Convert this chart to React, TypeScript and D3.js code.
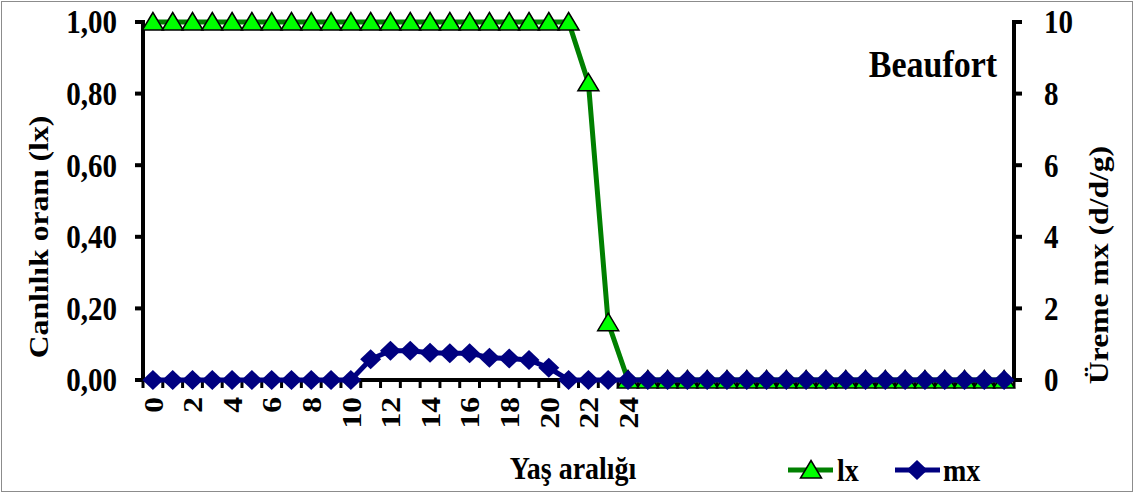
import React from "react";
import * as d3 from "d3";

const ages = ["0","1","2","3","4","5","6","7","8","9","10","11","12","13","14","15","16","17","18","19","20","21","22","23","24","25","26","27","28","29","30","31","32","33","34","35","36","37","38","39","40","41","42","43"];
const tickLabels = ["0","","2","","4","","6","","8","","10","","12","","14","","16","","18","","20","","22","","24","","","","","","","","","","","","","","","","","","",""];
const lxValues = [1,1,1,1,1,1,1,1,1,1,1,1,1,1,1,1,1,1,1,1,1,1,0.83,0.16,0,0,0,0,0,0,0,0,0,0,0,0,0,0,0,0,0,0,0,0];
const mxValues = [0,0,0,0,0,0,0,0,0,0,0,0.58,0.82,0.82,0.76,0.75,0.75,0.62,0.6,0.56,0.34,0,0,0,0,0,0,0,0,0,0,0,0,0,0,0,0,0,0,0,0,0,0,0];
const leftTicks = [0, 0.2, 0.4, 0.6, 0.8, 1.0];
const leftTickLabels = ["0,00","0,20","0,40","0,60","0,80","1,00"];
const rightTicks = [0, 2, 4, 6, 8, 10];

const W = 1140, H = 495;
const L = 143, R = 1014, T = 22, B = 380;
const FONT = "Liberation Serif, DejaVu Serif, serif";
const SY = 1.13;

function Txt(props: { x: number; y: number; rot?: number; anchor?: string; size: number; dy?: string; children: React.ReactNode }) {
  const { x, y, rot = 0, anchor = "start", size, dy, children } = props;
  return (
    <text transform={`translate(${x},${y}) scale(1,${SY}) rotate(${rot})`} textAnchor={anchor} fontSize={size} dy={dy}>
      {children}
    </text>
  );
}

export default function App() {
  const x = d3.scaleBand<string>().domain(ages).range([L, R]).paddingInner(0).paddingOuter(0);
  const bw = x.bandwidth();
  const cx = (i: number) => (x(ages[i]) as number) + bw / 2;
  const yL = d3.scaleLinear().domain([0, 1]).range([B, T]);
  const yR = d3.scaleLinear().domain([0, 10]).range([B, T]);

  const lxLine = d3.line<number>().x((_, i) => cx(i)).y((d) => yL(d))(lxValues) as string;
  const mxLine = d3.line<number>().x((_, i) => cx(i)).y((d) => yR(d))(mxValues) as string;

  const tri = "M0,-9.5 L10.5,8 L-10.5,8 Z";
  const dia = "M0,-10 L10.5,0 L0,10 L-10.5,0 Z";

  const boundaries = d3.range(ages.length + 1).map((i) => L + i * bw);

  return (
    <svg width={W} height={H} style={{ position: "absolute", left: 0, top: 0, background: "#fff", fontFamily: FONT, fontWeight: "bold" }}>
      <rect x={1.5} y={1.5} width={1131} height={490} fill="#fff" stroke="#8c8c8c" strokeWidth={1} />

      {/* left axis */}
      <line x1={L} x2={L} y1={T - 2} y2={B + 2} stroke="#000" strokeWidth={4} />
      {leftTicks.map((t, i) => (
        <g key={"l" + i}>
          <line x1={L - 8} x2={L} y1={yL(t)} y2={yL(t)} stroke="#000" strokeWidth={4} />
          <Txt x={117} y={yL(t)} dy="0.35em" anchor="end" size={29}>{leftTickLabels[i]}</Txt>
        </g>
      ))}
      {/* right axis */}
      <line x1={R} x2={R} y1={T - 2} y2={B + 2} stroke="#000" strokeWidth={4} />
      {rightTicks.map((t, i) => (
        <g key={"r" + i}>
          <line x1={R} x2={R + 8} y1={yR(t)} y2={yR(t)} stroke="#000" strokeWidth={4} />
          <Txt x={1044} y={yR(t)} dy="0.35em" size={29}>{String(t)}</Txt>
        </g>
      ))}

      {/* x axis */}
      <line x1={L} x2={R} y1={B} y2={B} stroke="#000" strokeWidth={4} />
      {boundaries.map((bx, i) => (
        <line key={"xt" + i} x1={bx} x2={bx} y1={B} y2={B + 8} stroke="#000" strokeWidth={3} />
      ))}
      {tickLabels.map((lab, i) =>
        lab ? (
          <Txt key={"xl" + i} x={cx(i)} y={397} rot={-90} dy="0.35em" anchor="end" size={28}>
            {lab}
          </Txt>
        ) : null
      )}

      {/* series lx */}
      <path d={lxLine} fill="none" stroke="#008000" strokeWidth={5} />
      {lxValues.map((v, i) => (
        <path key={"lx" + i} d={tri} transform={`translate(${cx(i)},${yL(v)})`} fill="#00ff00" stroke="#000" strokeWidth={1.5} />
      ))}
      {/* series mx */}
      <path d={mxLine} fill="none" stroke="#000080" strokeWidth={5} />
      {mxValues.map((v, i) => (
        <path key={"mx" + i} d={dia} transform={`translate(${cx(i)},${yR(v)})`} fill="#000080" />
      ))}

      {/* titles */}
      <Txt x={48} y={237} rot={-90} anchor="middle" size={28}>Canlılık oranı (lx)</Txt>
      <Txt x={1108} y={265} rot={-90} anchor="middle" size={28}>Üreme mx (d/d/g)</Txt>
      <Txt x={573} y={479} anchor="middle" size={28}>Yaş aralığı</Txt>
      <Txt x={933} y={77} anchor="middle" size={34}>Beaufort</Txt>

      {/* legend */}
      <line x1={788} x2={833} y1={470} y2={470} stroke="#008000" strokeWidth={5} />
      <path d={tri} transform="translate(811,470)" fill="#00ff00" stroke="#000" strokeWidth={1.5} />
      <Txt x={837} y={481} size={28}>lx</Txt>
      <line x1={895} x2={940} y1={470} y2={470} stroke="#000080" strokeWidth={5} />
      <path d={dia} transform="translate(917,470)" fill="#000080" />
      <Txt x={943} y={481} size={28}>mx</Txt>
    </svg>
  );
}
